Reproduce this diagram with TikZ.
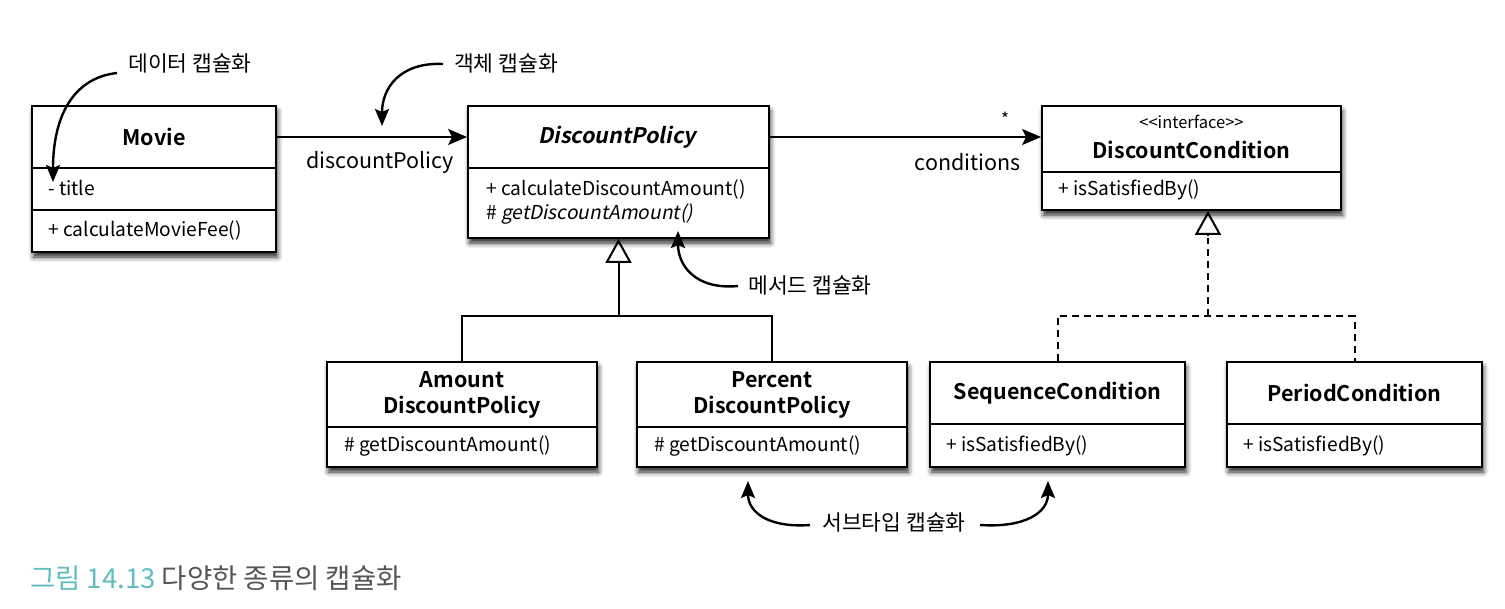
\documentclass[tikz,border=0pt]{standalone}
\usepackage{fontspec}
\setmainfont{Noto Sans CJK KR}[
  UprightFont = *,
  BoldFont = * Bold,
  ItalicFont = *,
  ItalicFeatures = {FakeSlant=0.2},
  BoldItalicFont = * Bold,
  BoldItalicFeatures = {FakeSlant=0.2}]
\usetikzlibrary{arrows.meta,shadows.blur}

\definecolor{capteal}{RGB}{98,188,192}
\definecolor{capgray}{RGB}{85,85,85}

\tikzset{
  umlbox/.style={draw=black, line width=1.8pt, fill=white, inner sep=0pt,
    blur shadow={shadow xshift=1.5pt, shadow yshift=-5pt, shadow blur radius=5pt, shadow opacity=85}},
  ttl/.style={font=\fontsize{21.5}{26}\selectfont\bfseries, inner sep=0pt, align=center},
  mem/.style={font=\fontsize{19.2}{23}\selectfont, inner sep=0pt, anchor=west},
  stereo/.style={font=\fontsize{16.5}{18}\selectfont, inner sep=0pt},
  rolelbl/.style={font=\fontsize{21.5}{25}\selectfont, inner sep=0pt},
  note/.style={font=\fontsize{21.5}{25}\selectfont, inner sep=0pt},
  divider/.style={line width=1.6pt},
  assoc/.style={line width=2pt, -{Stealth[length=19pt,width=16pt,inset=4pt]}},
  genline/.style={line width=2pt},
  gentip/.style={line width=2pt, -{Triangle[open,length=24pt,width=26pt]}},
  realline/.style={line width=2pt, dash pattern=on 7pt off 5pt},
  ann/.style={line width=2.4pt, -{Stealth[length=17pt,width=14pt,inset=3pt]}},
}

\begin{document}
\begin{tikzpicture}[x=1pt,y=-1pt]
\useasboundingbox (0,0) rectangle (1505,608);

% ---------- class boxes ----------
\node[umlbox, minimum width=244pt, minimum height=146pt] (movie) at (154,179) {};
\node[umlbox, minimum width=301pt, minimum height=132pt] (dp)    at (618.5,172) {};
\node[umlbox, minimum width=299pt, minimum height=104pt] (dc)    at (1191.5,158) {};
\node[umlbox, minimum width=270pt, minimum height=105pt] (amt)   at (462,414.5) {};
\node[umlbox, minimum width=270pt, minimum height=105pt] (pct)   at (772,414.5) {};
\node[umlbox, minimum width=255pt, minimum height=105pt] (seq)   at (1057.5,414.5) {};
\node[umlbox, minimum width=255pt, minimum height=105pt] (per)   at (1354.5,414.5) {};

% compartment dividers
\draw[divider] (movie.west |- 0,168) -- (movie.east |- 0,168);
\draw[divider] (movie.west |- 0,210) -- (movie.east |- 0,210);
\draw[divider] (dp.west |- 0,168) -- (dp.east |- 0,168);
\draw[divider] (dc.west |- 0,172) -- (dc.east |- 0,172);
\draw[divider] (amt.west |- 0,427) -- (amt.east |- 0,427);
\draw[divider] (pct.west |- 0,427) -- (pct.east |- 0,427);
\draw[divider] (seq.west |- 0,424) -- (seq.east |- 0,424);
\draw[divider] (per.west |- 0,424) -- (per.east |- 0,424);

% Movie
\node[ttl] (movieT) at (154,137) {Movie};
\node[mem] (movieA) at (48,188) {- title};
\node[mem] (movieM) at (48,231) {+ calculateMovieFee()};

% DiscountPolicy
\node[ttl, font=\fontsize{21.5}{26}\selectfont\bfseries\itshape] (dpT) at (617,137) {DiscountPolicy};
\node[mem] (dpM1) at (486,190) {+ calculateDiscountAmount()};
\node[mem] (dpM2) at (486,214) {\# \textit{getDiscountAmount()}};

% DiscountCondition
\node[stereo] (dcS) at (1191.5,122) {<{}<interface>{}>};
\node[ttl] (dcT) at (1191.5,150) {DiscountCondition};
\node[mem] (dcM) at (1058,190) {+ isSatisfiedBy()};

% AmountDiscountPolicy / PercentDiscountPolicy
\node[ttl, font=\fontsize{21.5}{26}\selectfont\bfseries] (amtT) at (462,395) {Amount\\DiscountPolicy};
\node[mem] (amtM) at (344,446) {\# getDiscountAmount()};
\node[ttl, font=\fontsize{21.5}{26}\selectfont\bfseries] (pctT) at (772,395) {Percent\\DiscountPolicy};
\node[mem] (pctM) at (654,446) {\# getDiscountAmount()};

% SequenceCondition / PeriodCondition
\node[ttl] (seqT) at (1057.5,393) {SequenceCondition};
\node[mem] (seqM) at (946,446) {+ isSatisfiedBy()};
\node[ttl] (perT) at (1354.5,393) {PeriodCondition};
\node[mem] (perM) at (1243,446) {+ isSatisfiedBy()};

% ---------- associations ----------
\coordinate (assocY) at (0,137);
\draw[assoc] (movie.east |- assocY) -- (dp.west |- assocY);
\node[rolelbl] (roleDP) at (380,162) {discountPolicy};
\draw[assoc] (dp.east |- assocY) -- (dc.west |- assocY);
\node[rolelbl] (roleDC) at (968,162) {conditions};
\node[stereo, font=\fontsize{17}{18}\selectfont] (mult) at (1005,119) {*};

% ---------- generalization ----------
\coordinate (gj) at (dp.south |- 0,316);
\draw[genline] (amt.north) |- (gj) -| (pct.north);
\draw[gentip] (gj) -- (dp.south);

% ---------- realization ----------
\coordinate (rj) at (1208,316);
\coordinate (rtop) at (1208,238);
\draw[realline] (seq.north) |- (rj) -| (per.north);
\draw[realline] (rj) -- (rtop);
\draw[gentip, shorten <=80pt] (rj) -- (rj |- dc.south);

% ---------- annotations ----------
\node[note] (nData) at (190,63) {데이터 캡슐화};
\coordinate (nData0) at (117,73);
\coordinate (nData1) at (53,182);
\draw[ann] (nData0) .. controls (72,78) and (53,118) .. (nData1);

\node[note] (nObj) at (506,63) {객체 캡슐화};
\coordinate (nObj0) at (443,64);
\coordinate (nObj1) at (382,126);
\draw[ann] (nObj0) .. controls (400,62) and (382,88) .. (nObj1);

\node[note] (nMeth) at (810,285) {메서드 캡슐화};
\coordinate (nMeth0) at (738,286);
\coordinate (nMeth1) at (678,231);
\draw[ann] (nMeth0) .. controls (696,290) and (678,266) .. (nMeth1);

\node[note] (nSub) at (894,522) {서브타입 캡슐화};
\coordinate (nSubL0) at (810,525);
\coordinate (nSubL1) at (748,481);
\coordinate (nSubR0) at (980,525);
\coordinate (nSubR1) at (1048,481);
\draw[ann] (nSubL0) .. controls (768,528) and (748,512) .. (nSubL1);
\draw[ann] (nSubR0) .. controls (1026,528) and (1048,512) .. (nSubR1);

% ---------- caption ----------
\node[anchor=west, inner sep=0pt, font=\fontsize{27.5}{31}\selectfont] (caption) at (30,578)
  {\textcolor{capteal}{그림 14.13} \textcolor{capgray}{다양한 종류의 캡슐화}};
\end{tikzpicture}
\end{document}
